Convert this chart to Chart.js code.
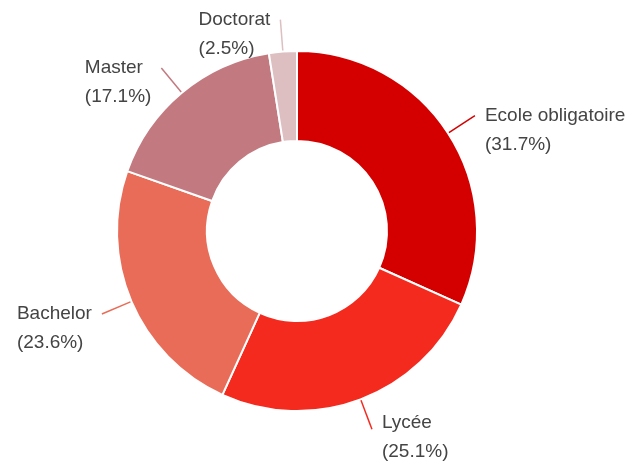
<!DOCTYPE html>
<html>
<head>
<meta charset="utf-8">
<script src="https://cdn.jsdelivr.net/npm/chart.js@4.4.0/dist/chart.umd.min.js"></script>
<style>
    body { margin: 0; background: #fff; }
    #wrap { width: 634px; height: 464px; }
</style>
</head>
<body>
<div id="wrap"><canvas id="niveauChart" width="634" height="464"></canvas></div>
<script>
const categories = ['Ecole obligatoire', 'Lycée', 'Bachelor', 'Master', 'Doctorat'];
const pourcentages = [31.7, 25.1, 23.6, 17.1, 2.5];
const couleurs = ['#d40000', '#f52a1f', '#e86c57', '#c27a80', '#ddbfc2'];

// étiquettes à l'extérieur avec un petit trait
const labelsDehors = {
    id: 'labelsDehors',
    afterDatasetsDraw(chart) {
        const ctx = chart.ctx;
        const meta = chart.getDatasetMeta(0);
        const H = chart.height;
        ctx.save();
        ctx.font = '19px "Liberation Sans", Arial, sans-serif';
        ctx.textBaseline = 'middle';
        ctx.textAlign = 'left';
        meta.data.forEach((arc, i) => {
            const p = arc.getProps(['x', 'y', 'startAngle', 'endAngle', 'outerRadius'], true);
            const mid = (p.startAngle + p.endAngle) / 2;
            const cos = Math.cos(mid), sin = Math.sin(mid);
            const x1 = p.x + cos * (p.outerRadius + 1), y1 = p.y + sin * (p.outerRadius + 1);
            const x2 = p.x + cos * (p.outerRadius + 32), y2 = p.y + sin * (p.outerRadius + 32);
            ctx.strokeStyle = couleurs[i];
            ctx.lineWidth = 1.5;
            ctx.beginPath();
            ctx.moveTo(x1, y1);
            ctx.lineTo(x2, y2);
            ctx.stroke();

            const lignes = [categories[i], '(' + pourcentages[i].toFixed(1) + '%)'];
            const largeur = Math.max(...lignes.map(l => ctx.measureText(l).width));
            const tx = cos >= 0 ? x2 + 10 : x2 - 10 - largeur;
            let ty = y2;
            if (ty < 17) ty = 17;
            if (ty + 29 > H - 12) ty = H - 12 - 29;
            ctx.fillStyle = '#444444';
            lignes.forEach((l, k) => ctx.fillText(l, tx, ty + k * 29));
        });
        ctx.restore();
    }
};

new Chart(document.getElementById('niveauChart').getContext('2d'), {
    type: 'doughnut',
    data: {
        labels: categories,
        datasets: [{
            data: pourcentages,
            backgroundColor: couleurs,
            borderColor: '#ffffff',
            borderWidth: 2
        }]
    },
    options: {
        responsive: false,
        animation: false,
        cutout: '50%',
        layout: { padding: { top: 50, bottom: 52, left: 116, right: 156 } },
        plugins: {
            legend: { display: false },
            tooltip: { enabled: false }
        }
    },
    plugins: [labelsDehors]
});
</script>
</body>
</html>
